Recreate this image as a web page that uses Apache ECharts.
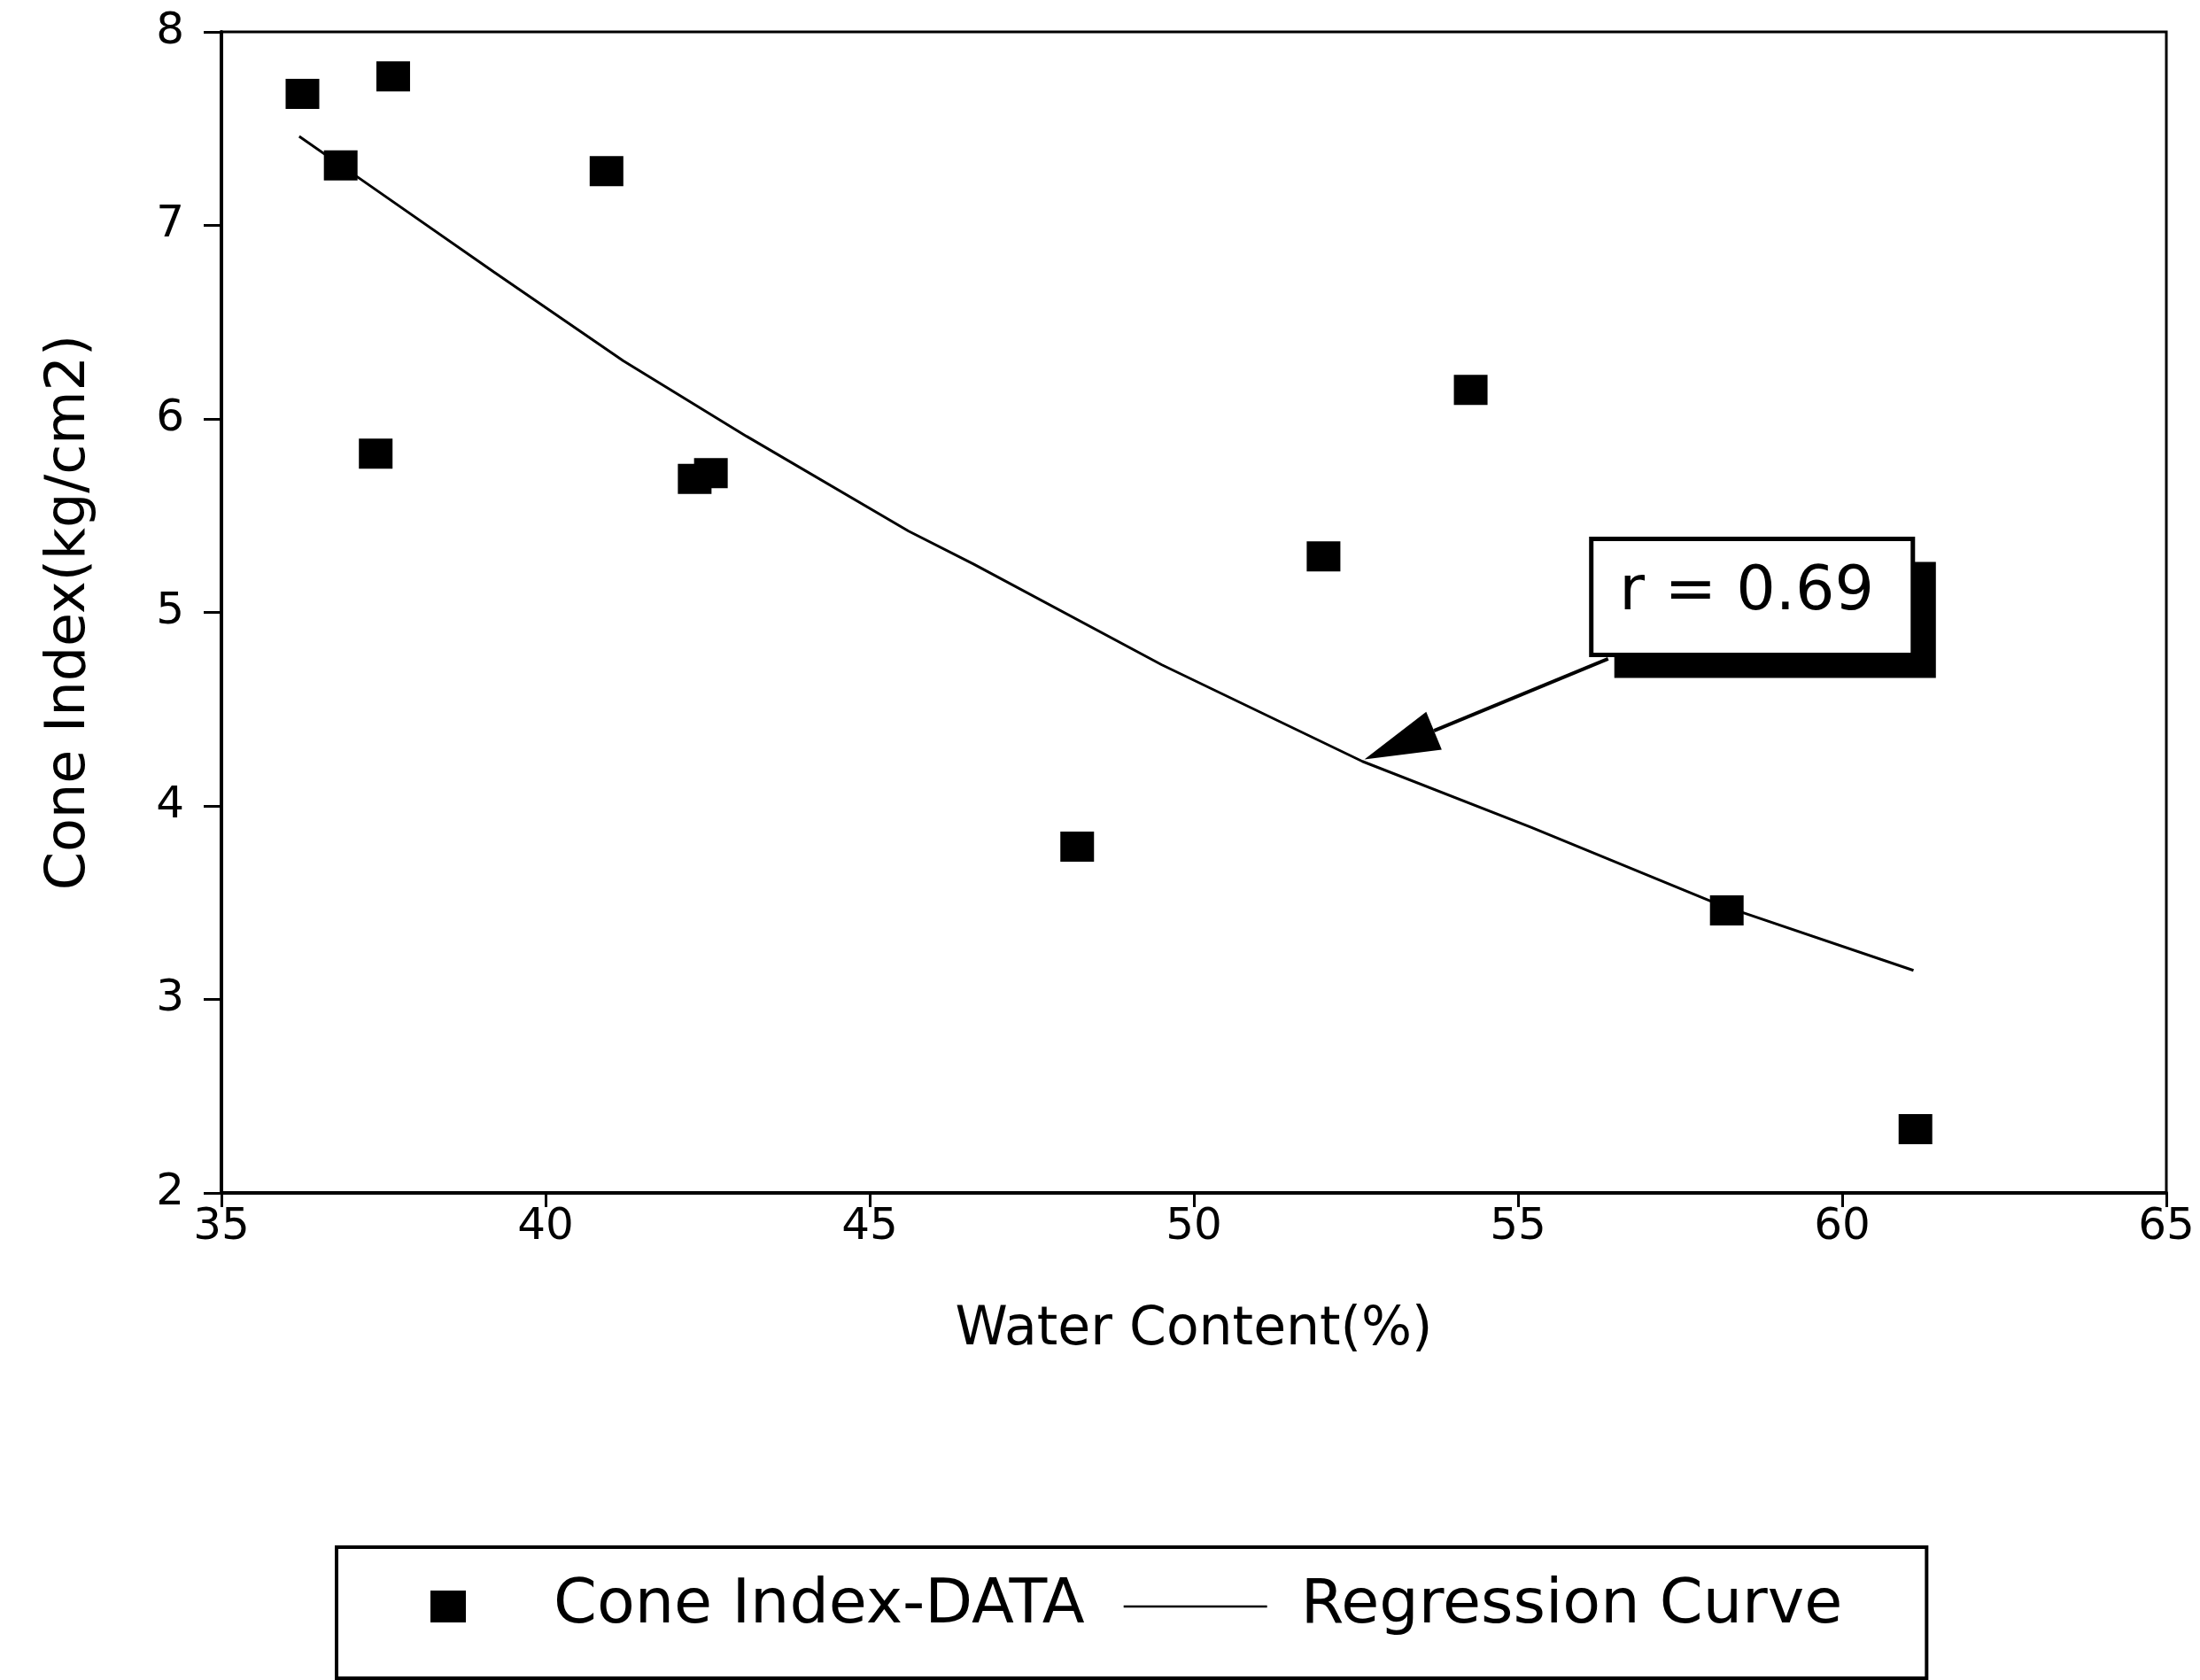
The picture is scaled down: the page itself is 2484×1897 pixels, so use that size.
<!DOCTYPE html>
<html><head><meta charset="utf-8">
<script src="https://cdn.jsdelivr.net/npm/echarts@6/dist/echarts.min.js"></script>
<style>html,body{margin:0;padding:0;background:#fff;}#c{width:2484px;height:1897px;}</style>
</head><body><div id="c"></div>
<script>
// ---- data ----
const waterContent = [36.25, 37.65, 36.84, 37.38, 40.94, 42.3, 42.55, 48.2, 52.0, 54.27, 58.22, 61.13];
const coneIndex    = [7.68, 7.77, 7.31, 5.82, 7.28, 5.69, 5.72, 3.79, 5.29, 6.15, 3.46, 2.33];
const curveWaterContent = [36.2, 37.1, 39.2, 41.2, 43.1, 45.6, 46.6, 49.5, 52.6, 55.2, 58.1, 61.1];
const curveConeIndex    = [7.46, 7.25, 6.76, 6.30, 5.91, 5.42, 5.25, 4.73, 4.23, 3.89, 3.49, 3.15];
const xTickValues = [35, 40, 45, 50, 55, 60, 65];
const yTickValues = [2, 3, 4, 5, 6, 7, 8];
const seriesNames = ['Cone Index-DATA', 'Regression Curve'];
const axisTitles = ['Water Content(%)', 'Cone Index(kg/cm2)'];
const annotationText = 'r = 0.69';
// annotation anchors in data coordinates: box corners, arrow start, arrow tip
const annotationBox = [[56.13, 5.38], [61.09, 4.78]];
const annotationArrow = [[56.39, 4.76], [52.63, 4.24]];

const FONT = 'DejaVu Sans';
const chart = echarts.init(document.getElementById('c'), null, {renderer: 'canvas'});

const scatterData = waterContent.map((x, i) => [x, coneIndex[i]]);
const curveData = curveWaterContent.map((x, i) => [x, curveConeIndex[i]]);

chart.setOption({
  backgroundColor: '#fff',
  animation: false,
  grid: {left: 250, right: 38, top: 36, bottom: 550, show: true, borderColor: '#000', borderWidth: 3, backgroundColor: 'transparent'},
  xAxis: {
    type: 'value',
    min: xTickValues[0], max: xTickValues[xTickValues.length - 1],
    interval: xTickValues[1] - xTickValues[0],
    name: axisTitles[0], nameLocation: 'middle', nameGap: 125,
    nameTextStyle: {fontFamily: FONT, fontSize: 60, color: '#000'},
    axisLine: {lineStyle: {color: '#000', width: 4}},
    axisTick: {show: true, length: 16, lineStyle: {color: '#000', width: 3}},
    axisLabel: {fontFamily: FONT, fontSize: 50, color: '#000', margin: 14},
    splitLine: {show: false}
  },
  yAxis: {
    type: 'value',
    min: yTickValues[0], max: yTickValues[yTickValues.length - 1],
    interval: yTickValues[1] - yTickValues[0],
    name: axisTitles[1], nameLocation: 'middle', nameGap: 140,
    nameTextStyle: {fontFamily: FONT, fontSize: 62, color: '#000'},
    axisLine: {lineStyle: {color: '#000', width: 4}},
    axisTick: {show: true, length: 20, lineStyle: {color: '#000', width: 3}},
    axisLabel: {fontFamily: FONT, fontSize: 50, color: '#000', margin: 42},
    splitLine: {show: false}
  },
  legend: {
    left: 380, top: 1747,
    padding: [32, 95, 46, 106],
    borderColor: '#000', borderWidth: 4,
    itemWidth: 162, itemHeight: 36, itemGap: 44,
    symbolKeepAspect: true,
    textStyle: {fontFamily: FONT, fontSize: 70, color: '#000', padding: [0, 0, 0, 33]},
    data: [
      {name: seriesNames[0], icon: 'path://M0,0H40V36H0Z'},
      {name: seriesNames[1], icon: 'path://M0,0H60V1H0Z'}
    ]
  },
  series: [
    {
      name: seriesNames[0], type: 'scatter', symbol: 'rect', symbolSize: [38, 34],
      itemStyle: {color: '#000', opacity: 1}, data: scatterData, z: 3
    },
    {
      name: seriesNames[1], type: 'line', symbol: 'none', showSymbol: false,
      lineStyle: {color: '#000', width: 3}, itemStyle: {color: '#000'},
      data: curveData, z: 2
    }
  ]
});

function drawAnnotation() {
  const a = chart.convertToPixel({gridIndex: 0}, annotationBox[0]);
  const b = chart.convertToPixel({gridIndex: 0}, annotationBox[1]);
  const s = chart.convertToPixel({gridIndex: 0}, annotationArrow[0]);
  const t = chart.convertToPixel({gridIndex: 0}, annotationArrow[1]);
  const w = b[0] - a[0], h = b[1] - a[1];
  const dx = t[0] - s[0], dy = t[1] - s[1];
  const len = Math.sqrt(dx * dx + dy * dy);
  const ux = dx / len, uy = dy / len;
  const headLen = 85, headHalf = 23;
  const bx = t[0] - ux * headLen, by = t[1] - uy * headLen;
  const nx = -uy, ny = ux;
  chart.setOption({
    graphic: [
      {type: 'line', shape: {x1: s[0], y1: s[1], x2: bx, y2: by}, style: {stroke: '#000', lineWidth: 4}, z: 10},
      {type: 'polygon', shape: {points: [[t[0], t[1]], [bx + nx * headHalf, by + ny * headHalf], [bx - nx * headHalf, by - ny * headHalf]]}, style: {fill: '#000'}, z: 10},
      {type: 'rect', shape: {x: a[0] + 26, y: a[1] + 26, width: w, height: h}, style: {fill: '#000'}, z: 10},
      {type: 'rect', shape: {x: a[0], y: a[1], width: w, height: h}, style: {fill: '#fff', stroke: '#000', lineWidth: 5}, z: 11},
      {type: 'text', x: a[0] + w / 2 - 6, y: a[1] + h / 2 - 4, style: {text: annotationText, fontFamily: FONT, fontSize: 70, fill: '#000', align: 'center', verticalAlign: 'middle'}, z: 12}
    ]
  });
}
drawAnnotation();
</script>
</body></html>
